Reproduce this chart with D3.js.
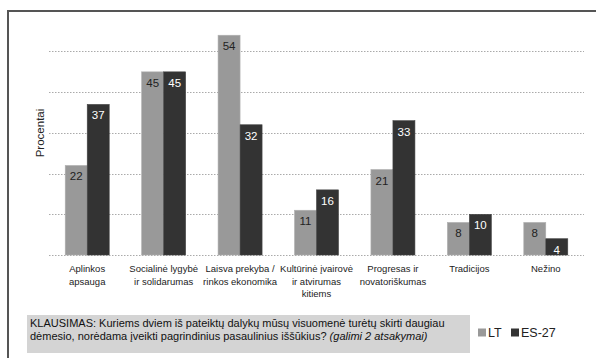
<!DOCTYPE html>
<html><head><meta charset="utf-8">
<script src="https://cdn.jsdelivr.net/npm/d3@7"></script>
<style>body{margin:0;background:#fff}svg{display:block}</style>
</head><body>
<script>
const categories = [
  ["Aplinkos","apsauga"],
  ["Socialinė lygybė","ir solidarumas"],
  ["Laisva prekyba /","rinkos ekonomika"],
  ["Kultūrinė įvairovė","ir atvirumas","kitiems"],
  ["Progresas ir","novatoriškumas"],
  ["Tradicijos"],
  ["Nežino"]
];
const seriesNames = ["LT","ES-27"];
const valuesLT = [22,45,54,11,21,8,8];
const valuesES = [37,45,32,16,33,10,4];
const yTicks = [0,10,20,30,40,50];
const colors = ["#999999","#333333"];
const labelColors = ["#222222","#ffffff"];

const W=596,H=358;
const svg=d3.select("body").append("svg").attr("width",W).attr("height",H);
svg.append("rect").attr("width",W).attr("height",H).attr("fill","#fff");
// frame
svg.append("line").attr("x1",8).attr("x2",W).attr("y1",11).attr("y2",11).attr("stroke","#555").attr("stroke-width",2);
svg.append("line").attr("x1",8).attr("x2",8).attr("y1",10).attr("y2",H).attr("stroke","#555").attr("stroke-width",2);

const ids=categories.map((c,i)=>i);
const x=d3.scaleBand().domain(ids).range([49,584]).padding(0);
const x1=d3.scaleBand().domain(seriesNames).range([0,44]);
const y=d3.scaleLinear().domain([0,60]).range([255,10.8]);

const g=svg.append("g");
g.selectAll("line.grid").data(yTicks).enter().append("line")
  .attr("x1",49).attr("x2",584).attr("y1",d=>Math.round(y(d))+0.5).attr("y2",d=>Math.round(y(d))+0.5)
  .attr("stroke","#aaa").attr("stroke-width",1).attr("stroke-dasharray","1.5,1.5");

svg.append("text").attr("transform","translate(44,133) rotate(-90)")
  .attr("text-anchor","middle").attr("font-family","Liberation Sans, Arial, sans-serif")
  .attr("font-size",11.5).attr("fill","#222").text("Procentai");

const data=ids.map(i=>[valuesLT[i],valuesES[i]]);
const grp=g.selectAll("g.cat").data(ids).enter().append("g")
  .attr("transform",i=>`translate(${x(i)+x.bandwidth()/2-22},0)`);
grp.each(function(i){
  const gg=d3.select(this);
  seriesNames.forEach((s,k)=>{
    const v=data[i][k];
    gg.append("rect").attr("x",x1(s)).attr("width",x1.bandwidth())
      .attr("y",y(v)).attr("height",y(0)-y(v)).attr("fill",colors[k])
      .attr("stroke",k===0?"#b0b0b0":"#444").attr("stroke-width",0.6);
    gg.append("text").attr("x",x1(s)+x1.bandwidth()/2).attr("y",y(v)+15)
      .attr("text-anchor","middle").attr("font-family","Liberation Sans, Arial, sans-serif")
      .attr("font-size",11.5).attr("fill",labelColors[k]).text(v);
  });
});

// category labels
ids.forEach(i=>{
  const t=svg.append("text").attr("text-anchor","middle")
    .attr("font-family","Liberation Sans, Arial, sans-serif").attr("font-size",9.5).attr("fill","#222");
  categories[i].forEach((line,j)=>{
    t.append("tspan").attr("x",x(i)+x.bandwidth()/2).attr("y",272+j*12.5).text(line);
  });
});

// question box
svg.append("rect").attr("x",27).attr("y",315).attr("width",443).attr("height",38).attr("fill","#d4d4d4");
const q=svg.append("text").attr("font-family","Liberation Sans, Arial, sans-serif").attr("font-size",11).attr("fill","#111");
q.append("tspan").attr("x",30).attr("y",327).text("KLAUSIMAS: Kuriems dviem iš pateiktų dalykų mūsų visuomenė turėtų skirti daugiau");
q.append("tspan").attr("x",30).attr("y",340).text("dėmesio, norėdama įveikti pagrindinius pasaulinius iššūkius? ");
q.append("tspan").attr("font-style","italic").text("(galimi 2 atsakymai)");

// legend
const legX=[478,511];
seriesNames.forEach((s,k)=>{
  svg.append("rect").attr("x",legX[k]).attr("y",328.5).attr("width",8).attr("height",8).attr("fill",colors[k]);
  svg.append("text").attr("x",legX[k]+10).attr("y",337).attr("font-family","Liberation Sans, Arial, sans-serif")
    .attr("font-size",12.5).attr("fill","#222").text(s);
});
</script>
</body></html>
